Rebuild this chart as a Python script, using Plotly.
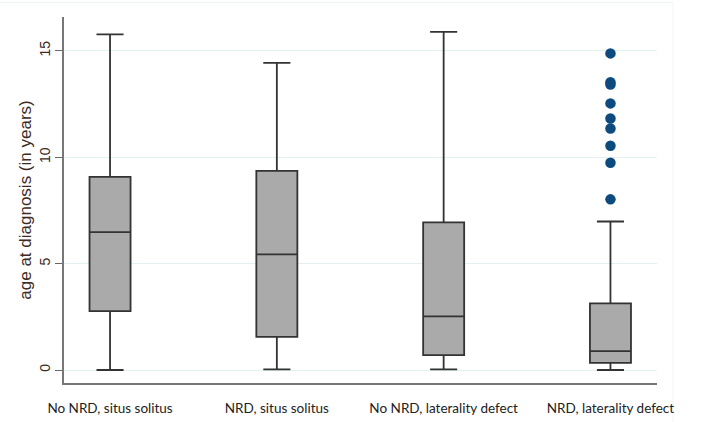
import plotly.graph_objects as go

categories = ["No NRD, situs solitus", "NRD, situs solitus",
              "No NRD, laterality defect", "NRD, laterality defect"]
lower_whisker = [0.0, 0.03, 0.03, 0.0]
q1_values = [2.77, 1.56, 0.70, 0.34]
median_values = [6.48, 5.43, 2.52, 0.89]
q3_values = [9.08, 9.36, 6.94, 3.13]
upper_whisker = [15.77, 14.43, 15.89, 6.98]
outlier_group = "NRD, laterality defect"
outlier_values = [14.88, 13.52, 13.42, 12.53, 11.82, 11.35, 10.54, 9.74, 8.02]
y_tick_values = [0, 5, 10, 15]
y_tick_labels = ["0", "5", "10", "15"]

text_color = "#3d2a24"

fig = go.Figure()
fig.add_trace(go.Box(
    x=categories,
    q1=q1_values, median=median_values, q3=q3_values,
    lowerfence=lower_whisker, upperfence=upper_whisker,
    fillcolor="#aaaaaa",
    line=dict(color="#333333", width=1.8),
    whiskerwidth=0.66,
    width=0.246,
    boxpoints=False,
    showlegend=False,
    hoverinfo="skip",
))
fig.add_trace(go.Scatter(
    x=[outlier_group] * len(outlier_values),
    y=outlier_values,
    mode="markers",
    marker=dict(color="#0d4a7e", size=10.5),
    showlegend=False,
))

fig.update_layout(
    width=702, height=422,
    margin=dict(l=64, r=45, t=17, b=39),
    paper_bgcolor="white", plot_bgcolor="white",
    xaxis=dict(
        type="category",
        categoryorder="array", categoryarray=categories,
        range=[-0.276, 3.279],
        automargin=False,
        showline=True, linecolor="#777777", linewidth=1.5,
        showgrid=False, ticks="", zeroline=False,
        ticklabelstandoff=12,
        tickfont=dict(family="Lato, Open Sans, sans-serif", size=13.5, color="#222222"),
    ),
    yaxis=dict(
        range=[-0.61, 16.59],
        automargin=False,
        tickvals=y_tick_values, ticktext=y_tick_labels,
        tickangle=-90,
        ticks="outside", ticklen=7, tickcolor="#666666", tickwidth=1.2,
        showline=True, linecolor="#777777", linewidth=1.5,
        showgrid=True, gridcolor="#e3f0f2", gridwidth=1,
        zeroline=False,
        tickfont=dict(family="Liberation Sans, Arial, sans-serif", size=14, color=text_color),
        title=dict(text="age at diagnosis (in years)", standoff=1,
                   font=dict(family="Liberation Sans, Arial, sans-serif", size=17, color=text_color)),
    ),
)

fig.add_shape(type="rect", xref="paper", yref="paper",
              x0=-0.2, x1=1.027, y0=-0.2, y1=1.04,
              line=dict(color="#f0f4f6", width=1), layer="below")

fig.write_html(
    "out.html",
    config={"displayModeBar": False},
    post_script="document.body.style.margin='0';document.body.style.overflow='hidden';",
)
